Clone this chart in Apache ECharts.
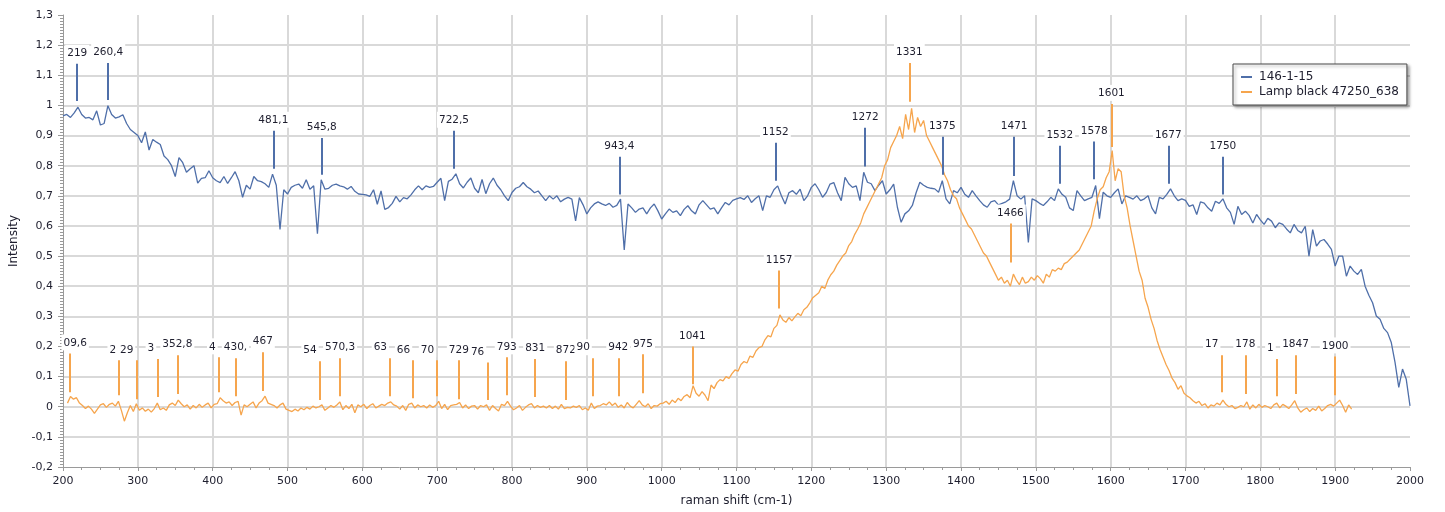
<!DOCTYPE html>
<html>
<head>
<meta charset="utf-8">
<script src="https://cdn.jsdelivr.net/npm/echarts@6/dist/echarts.min.js"></script>
<style>
html,body{margin:0;padding:0;background:#fff;}
#chart{width:1445px;height:512px;}
</style>
</head>
<body>
<div id="chart"></div>
<script>
// ---------- DATA ----------
const seriesNames = ['146-1-15', 'Lamp black 47250_638'];

// 146-1-15 : raman shift 200..2000, one reading every 5 cm-1
const blueStart = 200, blueStep = 5;
const blueY = [
0.965,0.97,0.96,0.975,0.994,0.97,0.958,0.96,0.952,0.982,
0.935,0.94,0.999,0.97,0.958,0.962,0.969,0.94,0.92,0.91,
0.9,0.876,0.912,0.852,0.887,0.878,0.87,0.832,0.82,0.8,
0.764,0.827,0.81,0.778,0.79,0.8,0.742,0.758,0.76,0.783,
0.76,0.75,0.744,0.764,0.741,0.76,0.78,0.75,0.695,0.735,
0.722,0.764,0.75,0.747,0.74,0.728,0.772,0.735,0.588,0.72,
0.706,0.728,0.735,0.739,0.725,0.753,0.722,0.733,0.574,0.753,
0.722,0.725,0.735,0.739,0.733,0.73,0.722,0.731,0.715,0.706,
0.705,0.703,0.698,0.72,0.672,0.716,0.655,0.661,0.675,0.698,
0.68,0.694,0.69,0.703,0.72,0.733,0.72,0.733,0.728,0.731,
0.745,0.758,0.684,0.748,0.755,0.773,0.74,0.726,0.745,0.759,
0.725,0.71,0.754,0.707,0.74,0.759,0.735,0.72,0.7,0.684,
0.711,0.725,0.73,0.744,0.73,0.722,0.71,0.716,0.7,0.684,
0.7,0.689,0.7,0.68,0.689,0.695,0.689,0.617,0.694,0.67,
0.64,0.66,0.673,0.68,0.673,0.668,0.675,0.662,0.668,0.689,
0.52,0.673,0.66,0.645,0.656,0.66,0.64,0.66,0.673,0.65,
0.623,0.64,0.656,0.645,0.65,0.634,0.655,0.667,0.65,0.64,
0.67,0.684,0.67,0.656,0.66,0.64,0.66,0.678,0.67,0.685,
0.69,0.694,0.688,0.7,0.678,0.69,0.7,0.651,0.7,0.695,
0.72,0.733,0.7,0.673,0.71,0.717,0.705,0.722,0.684,0.7,
0.728,0.74,0.72,0.695,0.711,0.739,0.744,0.71,0.684,0.761,
0.74,0.728,0.733,0.684,0.778,0.745,0.74,0.717,0.735,0.75,
0.706,0.72,0.739,0.662,0.612,0.64,0.65,0.668,0.71,0.745,
0.735,0.728,0.725,0.723,0.712,0.75,0.69,0.673,0.717,0.71,
0.728,0.705,0.695,0.717,0.7,0.684,0.67,0.662,0.68,0.684,
0.67,0.675,0.68,0.689,0.75,0.7,0.689,0.7,0.545,0.69,
0.684,0.675,0.668,0.68,0.695,0.684,0.723,0.705,0.695,0.66,
0.651,0.717,0.7,0.684,0.69,0.695,0.734,0.624,0.712,0.7,
0.695,0.71,0.723,0.673,0.7,0.695,0.689,0.7,0.684,0.69,
0.7,0.66,0.64,0.695,0.69,0.705,0.723,0.7,0.684,0.69,
0.685,0.665,0.67,0.638,0.68,0.676,0.66,0.649,0.682,0.675,
0.69,0.66,0.645,0.605,0.665,0.638,0.649,0.635,0.61,0.638,
0.62,0.605,0.625,0.616,0.594,0.61,0.605,0.59,0.577,0.605,
0.585,0.577,0.599,0.5,0.588,0.533,0.55,0.555,0.54,0.522,
0.467,0.5,0.5,0.433,0.467,0.45,0.439,0.456,0.4,0.37,
0.345,0.301,0.29,0.26,0.246,0.213,0.147,0.064,0.125,0.091,
0.003
];

// Lamp black 47250_638 : raman shift 206..1922, one reading every 4 cm-1
const orangeStart = 206, orangeStep = 4;
const orangeY = [
0.012,0.034,0.025,0.03,0.012,0.004,-0.006,0.002,-0.008,-0.022,
-0.008,0.006,0.01,-0.002,0.008,0.012,0.002,0.018,-0.012,-0.048,
-0.02,0.004,-0.016,0.01,-0.012,-0.004,-0.015,-0.008,-0.018,-0.006,
0.012,-0.01,-0.004,-0.012,0.006,0.012,0.004,0.022,0.01,0.0,
0.006,-0.008,0.004,-0.004,0.008,-0.002,0.006,0.012,-0.004,0.008,
0.01,0.03,0.02,0.012,0.016,0.004,0.014,0.018,-0.028,0.006,
0.0,0.008,0.016,-0.004,0.012,0.02,0.035,0.012,0.008,0.004,
-0.004,0.006,0.012,-0.008,-0.012,-0.016,-0.008,-0.014,-0.004,-0.01,
-0.002,-0.008,0.002,-0.004,0.0,0.006,-0.012,-0.004,0.004,-0.002,
0.006,0.016,-0.01,0.004,-0.006,0.008,-0.02,0.006,0.0,0.008,
-0.006,0.004,0.01,-0.004,0.002,0.008,0.004,0.012,0.016,0.006,
0.002,-0.008,0.004,-0.012,0.008,0.012,-0.004,0.006,0.0,0.004,
-0.004,0.006,-0.002,0.004,0.018,-0.006,0.008,-0.01,0.004,0.006,
0.008,0.014,-0.004,0.006,-0.006,0.002,0.004,-0.008,0.004,0.0,
0.006,-0.012,0.004,-0.006,-0.014,0.008,0.004,0.018,0.002,-0.01,
-0.004,0.004,-0.012,-0.002,0.006,0.01,-0.004,0.004,-0.002,0.002,
-0.004,0.004,-0.006,0.002,-0.008,0.008,-0.006,-0.002,-0.004,0.002,
-0.002,0.004,-0.01,-0.004,-0.012,0.012,-0.006,0.002,0.004,0.01,
0.006,0.016,0.004,0.012,-0.002,0.006,-0.004,0.014,0.002,-0.004,
0.008,0.02,0.006,0.0,0.01,-0.006,0.004,0.002,0.01,0.012,
0.018,0.008,0.022,0.014,0.028,0.02,0.034,0.04,0.03,0.07,
0.045,0.035,0.05,0.038,0.02,0.072,0.06,0.08,0.09,0.086,
0.1,0.094,0.11,0.122,0.118,0.14,0.15,0.145,0.168,0.164,
0.185,0.196,0.2,0.222,0.236,0.232,0.26,0.27,0.305,0.288,
0.28,0.296,0.285,0.298,0.31,0.302,0.322,0.33,0.345,0.362,
0.37,0.378,0.4,0.392,0.42,0.438,0.45,0.47,0.485,0.5,
0.51,0.535,0.548,0.572,0.59,0.61,0.64,0.66,0.68,0.7,
0.72,0.74,0.76,0.8,0.82,0.86,0.88,0.9,0.93,0.89,
0.97,0.92,0.99,0.91,0.96,0.93,0.95,0.9,0.88,0.86,
0.84,0.82,0.8,0.77,0.75,0.72,0.7,0.69,0.66,0.64,
0.62,0.6,0.59,0.57,0.55,0.53,0.51,0.5,0.48,0.46,
0.44,0.42,0.43,0.41,0.42,0.4,0.44,0.42,0.405,0.43,
0.41,0.415,0.43,0.42,0.435,0.425,0.41,0.44,0.43,0.455,
0.45,0.46,0.455,0.475,0.48,0.49,0.5,0.51,0.52,0.54,
0.56,0.58,0.6,0.65,0.69,0.72,0.73,0.76,0.78,0.85,
0.75,0.79,0.78,0.7,0.66,0.6,0.55,0.5,0.45,0.42,
0.36,0.33,0.29,0.26,0.22,0.19,0.165,0.14,0.12,0.095,
0.08,0.058,0.07,0.045,0.036,0.03,0.02,0.012,0.018,0.004,
0.01,-0.004,0.006,0.002,0.012,0.006,0.022,0.008,0.0,0.004,
-0.006,-0.002,0.004,0.0,0.016,-0.008,0.006,-0.004,0.008,-0.002,
0.004,0.0,-0.006,0.006,0.012,-0.004,0.008,0.002,-0.006,0.006,
0.02,-0.004,-0.018,-0.01,-0.004,-0.016,-0.006,-0.012,0.002,-0.014,
-0.006,0.004,0.008,0.002,0.012,0.022,0.004,-0.018,0.006,-0.008
];

// Peak annotations (raman shift, label text, lower / upper end of the leader in intensity units)
const bluePeakX   = [219, 260.4, 481.1, 545.8, 722.5, 943.4, 1152, 1272, 1375, 1471, 1532, 1578, 1677, 1750];
const bluePeakTxt = ['219','260,4','481,1','545,8','722,5','943,4','1152','1272','1375','1471','1532','1578','1677','1750'];
const bluePeakLo  = [1.015,1.018,0.79,0.77,0.79,0.704,0.75,0.797,0.77,0.766,0.74,0.755,0.74,0.704];
const bluePeakHi  = [1.138,1.141,0.916,0.892,0.916,0.83,0.876,0.926,0.896,0.896,0.866,0.88,0.866,0.83];

const orangePeakX   = [209.6, 275, 298, 326, 352.8, 408, 430.5, 467, 543, 570.3, 637, 668, 700, 729, 767, 793, 831, 872, 908, 942, 975, 1041, 1157, 1331, 1466, 1601, 1748, 1780, 1822, 1847, 1900];
const orangePeakTxt = ['09,6','2','29','3','352,8','4','430,','467','54','570,3','63','66','70','729','76','793','831','872','90','942','975','1041','1157','1331','1466','1601','17','178','1','1847','1900'];
const orangePeakLo  = [0.048,0.038,0.025,0.032,0.042,0.048,0.035,0.052,0.022,0.035,0.035,0.028,0.035,0.025,0.022,0.038,0.032,0.022,0.035,0.035,0.045,0.075,0.326,1.012,0.479,0.862,0.048,0.042,0.035,0.042,0.038];
const orangePeakHi  = [0.177,0.154,0.154,0.158,0.171,0.164,0.161,0.181,0.151,0.161,0.161,0.154,0.154,0.154,0.147,0.164,0.158,0.151,0.161,0.161,0.174,0.2,0.452,1.141,0.608,1.005,0.171,0.171,0.158,0.171,0.167];

// ---------- CHART ----------
const BLUE = '#4f6fa9', ORANGE = '#f6a54d';
const FONT = 'DejaVu Sans';
const X_MIN = 200, X_MAX = 2000;

const blueData = blueY.map((v, i) => [blueStart + i * blueStep, v]);
const orangeData = orangeY.map((v, i) => [orangeStart + i * orangeStep, v]);

function peakLines(xs, txt, lo, hi) {
  return xs.map((x, i) => {
    const first = { coord: [x, lo[i]], name: txt[i] };
    const digits = txt[i].replace(/[^0-9]/g, '').length;
    if (x - X_MIN < 15) {
      // leader close to the plot's left edge: label pushed inside the plot
      first.label = { offset: [5, 0] };
    } else if (digits < 3) {
      // a partly hidden label: only its leading part shows, ending at the leader
      first.label = { align: 'right', offset: [-1, 0] };
    }
    return [first, { coord: [x, hi[i]] }];
  });
}

function markLineCfg(color, xs, txt, lo, hi) {
  return {
    silent: true,
    symbol: ['none', 'none'],
    animation: false,
    lineStyle: { color: color, width: 2, type: 'solid' },
    label: {
      show: true, position: 'end', formatter: '{b}', distance: 3,
      color: '#1e1e2e', fontFamily: FONT, fontSize: 10.5,
      backgroundColor: '#ffffff', padding: [3, 2, 2, 2]
    },
    emphasis: { disabled: true },
    data: peakLines(xs, txt, lo, hi)
  };
}

const fmtY = v => String(Math.round(v * 10) / 10).replace('.', ',');
const fmtX = v => String(Math.round(v));

const chart = echarts.init(document.getElementById('chart'), null, { renderer: 'canvas' });
chart.setOption({
  animation: false,
  backgroundColor: '#ffffff',
  textStyle: { fontFamily: FONT },
  grid: { left: 63, right: 35, top: 15, bottom: 44, containLabel: false },
  legend: {
    orient: 'vertical', left: 1233, top: 64,
    data: seriesNames,
    icon: 'rect', itemWidth: 11, itemHeight: 2, itemGap: 3,
    padding: [7, 8, 7, 8],
    backgroundColor: '#ffffff', borderColor: '#4a4a4a', borderWidth: 1,
    shadowBlur: 3, shadowOffsetX: 2, shadowOffsetY: 2, shadowColor: 'rgba(0,0,0,0.35)',
    textStyle: { fontFamily: FONT, fontSize: 12, color: '#1e1e2e', padding: [0, 0, 0, 2] },
    selectedMode: false
  },
  xAxis: {
    type: 'value', min: X_MIN, max: X_MAX, interval: 100,
    name: 'raman shift (cm-1)', nameLocation: 'middle', nameGap: 28,
    nameTextStyle: { fontFamily: FONT, fontSize: 12, color: '#1e1e2e' },
    axisLine: { show: true, onZero: false, lineStyle: { color: '#9a9a9a', width: 1 } },
    axisTick: { show: true, length: 4, lineStyle: { color: '#9a9a9a' } },
    minorTick: { show: true, splitNumber: 4, length: 3, lineStyle: { color: '#9a9a9a' } },
    axisLabel: { fontFamily: FONT, fontSize: 11, color: '#1e1e2e', margin: 9, formatter: fmtX },
    splitLine: { show: true, showMinLine: false, showMaxLine: false, lineStyle: { color: '#d9d9d9', width: 2 } }
  },
  yAxis: {
    type: 'value', min: -0.2, max: 1.3, interval: 0.1,
    name: 'Intensity', nameLocation: 'middle', nameGap: 43, nameRotate: 90,
    nameTextStyle: { fontFamily: FONT, fontSize: 12, color: '#1e1e2e' },
    axisLine: { show: true, onZero: false, lineStyle: { color: '#9a9a9a', width: 1 } },
    axisTick: { show: true, length: 5, lineStyle: { color: '#9a9a9a' } },
    minorTick: { show: true, splitNumber: 10, length: 3, lineStyle: { color: '#9a9a9a' } },
    axisLabel: { fontFamily: FONT, fontSize: 11, color: '#1e1e2e', margin: 10, formatter: fmtY },
    splitLine: { show: true, showMinLine: false, showMaxLine: false, lineStyle: { color: '#d9d9d9', width: 2 } }
  },
  series: [
    {
      name: seriesNames[0], type: 'line', data: blueData,
      showSymbol: false, symbol: 'none', smooth: false,
      lineStyle: { color: BLUE, width: 1.3 }, itemStyle: { color: BLUE },
      emphasis: { disabled: true },
      markLine: markLineCfg(BLUE, bluePeakX, bluePeakTxt, bluePeakLo, bluePeakHi)
    },
    {
      name: seriesNames[1], type: 'line', data: orangeData,
      showSymbol: false, symbol: 'none', smooth: false,
      lineStyle: { color: ORANGE, width: 1.3 }, itemStyle: { color: ORANGE },
      emphasis: { disabled: true },
      markLine: markLineCfg(ORANGE, orangePeakX, orangePeakTxt, orangePeakLo, orangePeakHi)
    }
  ]
});
</script>
</body>
</html>
